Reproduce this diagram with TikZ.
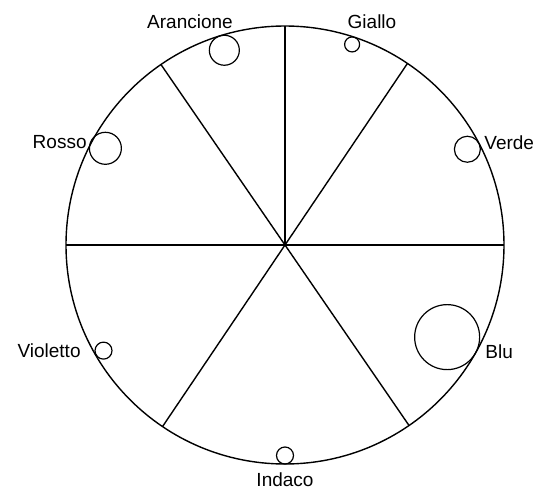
\documentclass[tikz,border=0pt]{standalone}
\usepackage{fontspec}
\setmainfont{Liberation Sans}
\usetikzlibrary{positioning}

\begin{document}
\begin{tikzpicture}[x=0.5pt,y=0.5pt,
 disc/.style={draw,circle,inner sep=0pt,line width=0.6pt},
 lab/.style={font=\fontsize{9.5}{11}\selectfont,inner sep=0pt}]
\useasboundingbox (-285,-243) rectangle (251,245);
% wheel and sectors
\draw[line width=0.7pt] (0,0) circle (219);
\draw[line width=0.7pt] (180:219)--(0:219);
\draw[line width=0.7pt] (0,0)--(90:219);
\draw[line width=0.7pt] (56:219)--(236:219);
\draw[line width=0.7pt] (124.5:219)--(304.5:219);
% small circles, one per colour
\node[disc,minimum size=15pt] (arancione) at (107.3:204){};
\node[disc,minimum size=7.5pt] (giallo) at (71.5:211.5){};
\node[disc,minimum size=13pt] (verde) at (27.7:206){};
\node[disc,minimum size=16pt] (rosso) at (151.7:204){};
\node[disc,minimum size=8.5pt] (violetto) at (210.2:210){};
\node[disc,minimum size=32.5pt] (blu) at (-29.6:186.5){};
\node[disc,minimum size=8.5pt] (indaco) at (270:210.5){};
% names
\node[lab,anchor=base] (tarancione) at (-95,217){Arancione};
\node[lab,anchor=base] (tgiallo) at (87,217){Giallo};
\node[lab,anchor=base east] (trosso) at (-198,97){Rosso};
\node[lab,anchor=base west] (tverde) at (199,96){Verde};
\node[lab,anchor=base east] (tvioletto) at (-204,-112){Violetto};
\node[lab,anchor=base west] (tblu) at (200,-113){Blu};
\node[lab,anchor=base] (tindaco) at (0,-241){Indaco};
\end{tikzpicture}
\end{document}
